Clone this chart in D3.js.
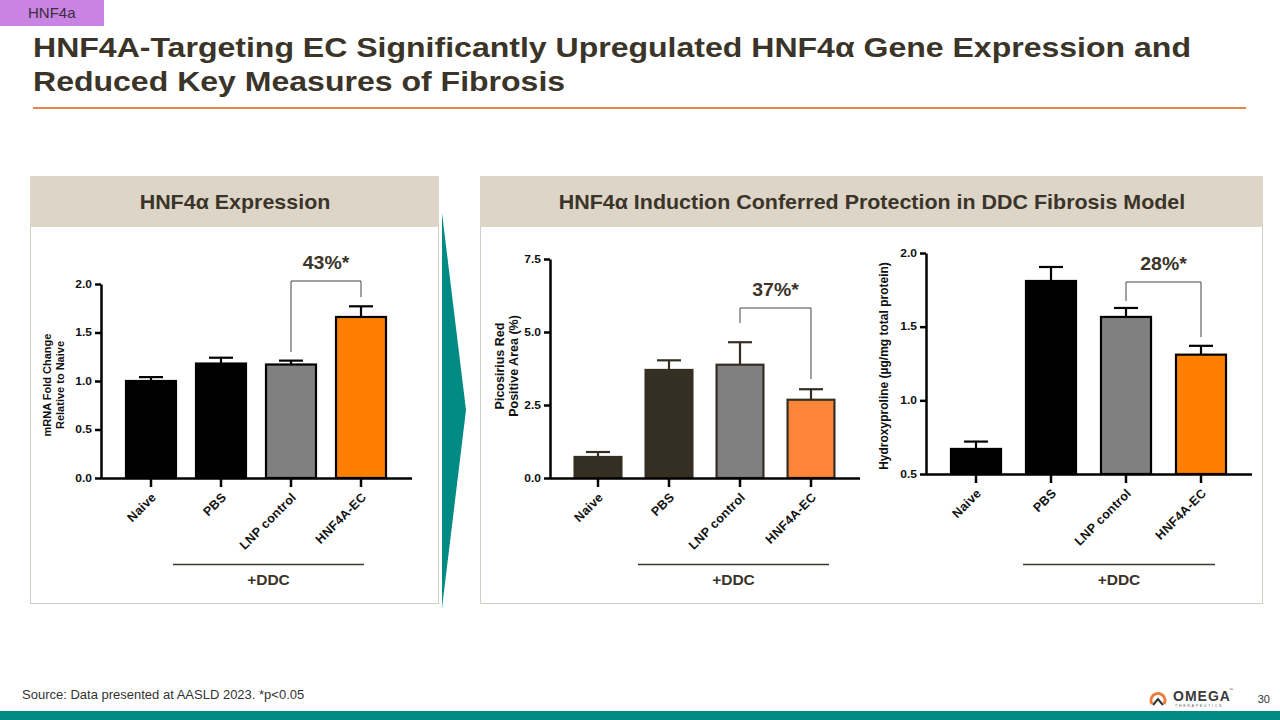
<!DOCTYPE html>
<html><head><meta charset="utf-8">
<script src="https://cdn.jsdelivr.net/npm/d3@7"></script>
<style>
html,body{margin:0;padding:0;background:#fff;}
svg{display:block;font-family:"Liberation Sans",Arial,sans-serif;}
</style></head>
<body>
<svg id="c" width="1280" height="720"></svg>
<script>
// ---- data ----
const categories = ["Naive","PBS","LNP control","HNF4A-EC"];
const mrnaValues = [1.00, 1.18, 1.17, 1.66];
const mrnaErrors = [1.04, 1.24, 1.21, 1.77];
const mrnaTicks = [0, 0.5, 1.0, 1.5, 2.0];
const psrValues = [0.72, 3.70, 3.88, 2.68];
const psrErrors = [0.89, 4.03, 4.65, 3.04];
const psrTicks = [0, 2.5, 5.0, 7.5];
const hypValues = [0.67, 1.81, 1.566, 1.31];
const hypErrors = [0.72, 1.905, 1.627, 1.37];
const hypTicks = [0.5, 1.0, 1.5, 2.0];
const annotations = ["43%*", "37%*", "28%*"];

const svg = d3.select("#c");
const dark = "#3b3428";

// stretched text helper
function stext(parent, x, y, sx, size, txt, anchor){
  return parent.append("text").attr("transform",`translate(${x},${y}) scale(${sx},1)`)
    .attr("font-size",size).attr("text-anchor",anchor||"start").text(txt);
}

// tag
svg.append("rect").attr("x",0).attr("y",0).attr("width",104).attr("height",26).attr("fill","#c883e3");
svg.append("text").attr("x",28).attr("y",18).attr("font-size",15).attr("fill","#3a2f3a").text("HNF4a");
// title
const title = svg.append("text").attr("transform","translate(33,0) scale(1.165,1)").attr("font-size",27.5).attr("font-weight","bold").attr("fill",dark);
title.append("tspan").attr("x",0).attr("y",57).text("HNF4A-Targeting EC Significantly Upregulated HNF4α Gene Expression and");
title.append("tspan").attr("x",0).attr("y",91).text("Reduced Key Measures of Fibrosis");
svg.append("line").attr("x1",33).attr("x2",1246).attr("y1",108).attr("y2",108).attr("stroke","#e8844c").attr("stroke-width",2);

// panels
function panel(x,w,label){
  svg.append("rect").attr("x",x+0.5).attr("y",176.5).attr("width",w).attr("height",427).attr("fill","#fff").attr("stroke","#d3cdc3").attr("stroke-width",1);
  svg.append("rect").attr("x",x).attr("y",176).attr("width",w+1).attr("height",51).attr("fill","#ddd5c8");
  stext(svg, x+w/2+1, 209, 1.1, 19.5, label, "middle").attr("font-weight","bold").attr("fill",dark);
}
panel(30,408,"HNF4α Expression");
panel(480,782,"HNF4α Induction Conferred Protection in DDC Fibrosis Model");
// arrow
svg.append("path").attr("d","M442,213 L466,410 L442,608 Z").attr("fill","#008a84");

function chart(o){
  const x = d3.scaleBand().domain(categories).range(o.xr).paddingInner(o.pi).paddingOuter(o.pi/2);
  const y = d3.scaleLinear().domain(o.yd).range([o.y0,o.y1]);
  const g = svg.append("g");
  // bars
  g.selectAll("rect.bar").data(o.values).join("rect")
    .attr("x",(d,i)=>x(categories[i])).attr("width",x.bandwidth())
    .attr("y",d=>y(d)).attr("height",d=>y(o.yd[0])-y(d))
    .attr("fill",(d,i)=>o.colors[i]).attr("stroke",o.stroke).attr("stroke-width",2.2);
  // error bars
  const cx = i => x(categories[i])+x.bandwidth()/2;
  g.selectAll("line.eb").data(o.errors).join("line")
    .attr("x1",(d,i)=>cx(i)).attr("x2",(d,i)=>cx(i))
    .attr("y1",(d,i)=>y(o.values[i])).attr("y2",d=>y(d))
    .attr("stroke",o.stroke).attr("stroke-width",2.2);
  g.selectAll("line.cap").data(o.errors).join("line")
    .attr("x1",(d,i)=>cx(i)-12).attr("x2",(d,i)=>cx(i)+12)
    .attr("y1",d=>y(d)).attr("y2",d=>y(d))
    .attr("stroke",o.stroke).attr("stroke-width",2.2);
  // y axis
  const ya = g.append("g").attr("transform",`translate(${o.ax},0)`)
    .call(d3.axisLeft(y).tickValues(o.ticks).tickFormat(d3.format(".1f")).tickSize(6).tickSizeOuter(0));
  ya.select(".domain").attr("stroke","#000").attr("stroke-width",2.5);
  ya.selectAll(".tick line").attr("stroke","#000").attr("stroke-width",2.5);
  ya.selectAll(".tick text").attr("font-size",10).attr("font-weight","bold").attr("fill","#111")
    .attr("font-family","Liberation Sans, Arial, sans-serif").attr("x",-7.6).attr("transform","scale(1.2,1)");
  // x axis
  const xa = g.append("g").attr("transform",`translate(0,${o.y0})`)
    .call(d3.axisBottom(x).tickSize(9).tickSizeOuter(0));
  xa.select(".domain").attr("d",`M${o.ax},0.5H${o.axEnd}`).attr("stroke","#000").attr("stroke-width",2.5);
  xa.selectAll(".tick line").attr("stroke","#000").attr("stroke-width",2.5);
  xa.selectAll(".tick text").attr("font-size",12.5).attr("font-weight","bold").attr("fill","#111")
    .attr("font-family","Liberation Sans, Arial, sans-serif").attr("letter-spacing",0.3)
    .attr("text-anchor","end").attr("dy",0).attr("y",0)
    .attr("transform","translate(6,20) rotate(-45)");
  // y label
  const yl = g.append("text").attr("transform",`translate(${o.ylx},${o.yly}) rotate(-90)`)
    .attr("text-anchor","middle").attr("font-size",o.yls).attr("font-weight","bold").attr("fill","#111");
  o.ylabel.forEach((t,k)=>yl.append("tspan").attr("x",0).attr("dy",k?o.yll:0).text(t));
  // bracket
  const a = cx(2), b = cx(3);
  g.append("path").attr("d",`M${a},${o.br[0]}V${o.br[1]}H${b}V${o.br[2]}`)
    .attr("fill","none").attr("stroke","#444").attr("stroke-width",1);
  stext(g,(a+b)/2,o.br[1]-12,1.08,18,o.ann,"middle").attr("font-weight","bold").attr("fill",dark);
  // DDC
  g.append("line").attr("x1",o.ddc[0]).attr("x2",o.ddc[1]).attr("y1",564.5).attr("y2",564.5)
    .attr("stroke","#3a3a30").attr("stroke-width",1.6);
  g.append("text").attr("x",(o.ddc[0]+o.ddc[1])/2).attr("y",585).attr("text-anchor","middle")
    .attr("font-size",15.5).attr("font-weight","bold").attr("fill",dark).text("+DDC");
}

chart({values:mrnaValues,errors:mrnaErrors,ticks:mrnaTicks,yd:[0,2],y0:478,y1:284,
  xr:[116,396],pi:0.286,ax:101,axEnd:412,colors:["#000","#000","#808080","#ff8000"],stroke:"#000",
  ylabel:["mRNA Fold  Change","Relative to Naive"],yls:11,yll:13,ylx:51,yly:385,br:[352,281,297],ann:annotations[0],ddc:[173,364]});
chart({values:psrValues,errors:psrErrors,ticks:psrTicks,yd:[0,7.5],y0:478,y1:259,
  xr:[562.5,846.5],pi:0.34,ax:550,axEnd:860,colors:["#342f22","#342f22","#808080","#ff8538"],stroke:"#342f22",
  ylabel:["Picosirius Red","Positive Area  (%)"],yls:12.5,yll:14,ylx:504,yly:366,br:[323,308,379],ann:annotations[1],ddc:[638,829]});
chart({values:hypValues,errors:hypErrors,ticks:hypTicks,yd:[0.5,2],y0:474,y1:253,
  xr:[938.5,1238.5],pi:0.333,ax:926,axEnd:1252,colors:["#000","#000","#808080","#ff8000"],stroke:"#000",
  ylabel:["Hydroxyproline (µg/mg total protein)"],yls:12,yll:0,ylx:888,yly:366,br:[301,282,337],ann:annotations[2],ddc:[1023,1215]});

// footer
svg.append("text").attr("x",22).attr("y",699).attr("font-size",13).attr("fill","#333").text("Source: Data presented at AASLD 2023. *p<0.05");
svg.append("rect").attr("x",0).attr("y",711).attr("width",1280).attr("height",9).attr("fill","#008a84");
svg.append("text").attr("x",1270).attr("y",703).attr("text-anchor","end").attr("font-size",11).attr("fill","#333").text("30");
// logo
const lg = svg.append("g").attr("transform","translate(1150,688)");
lg.append("path").attr("d","M2,16 A7,7 0 1 1 14,16").attr("fill","none").attr("stroke","#f07a3a").attr("stroke-width",3);
lg.append("path").attr("d","M3,17 L8,11 L13,17").attr("fill","none").attr("stroke","#333").attr("stroke-width",2);
lg.append("text").attr("x",23).attr("y",13).attr("font-size",14).attr("font-weight","bold").attr("fill","#3a3a3a").attr("letter-spacing",1).text("OMEGA");
lg.append("text").attr("x",79).attr("y",3).attr("font-size",4).attr("fill","#3a3a3a").text("™");
lg.append("text").attr("x",25).attr("y",19).attr("font-size",3.6).attr("fill","#555").attr("letter-spacing",1.7).text("THERAPEUTICS");
</script>
</body></html>
